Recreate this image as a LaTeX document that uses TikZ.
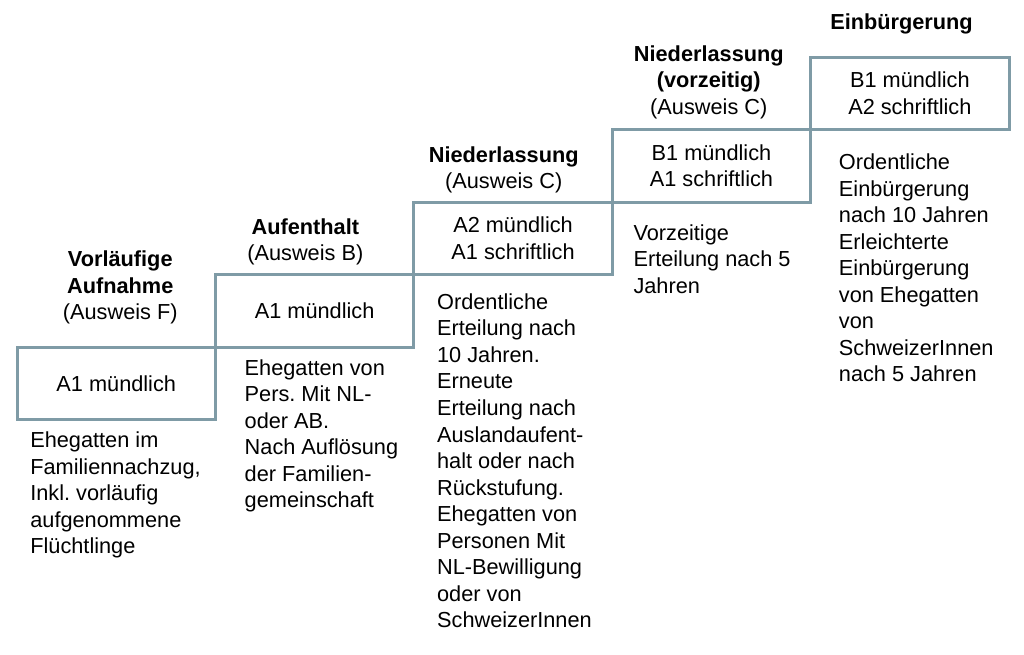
\documentclass[tikz,border=0pt]{standalone}
\usepackage{fontspec}
\setmainfont{Liberation Sans}
\usetikzlibrary{positioning}
\definecolor{stufenrand}{RGB}{127,155,166}
\frenchspacing

\begin{document}
\begin{tikzpicture}[
        every node/.style={
            font=\fontsize{16.3pt}{19.9pt}\selectfont,
            inner sep=0pt
        },
        stufe/.style={
            draw=stufenrand,
            line width=2.25pt,
            minimum width=148.8pt,
            minimum height=54.4pt,
            outer sep=0pt,
            align=center
        },
        titel/.style={
            align=center
        },
        beschreibung/.style={
            align=left,
            anchor=north west
        }
    ]

    \useasboundingbox (0,0) rectangle (768pt,-491.25pt);

    \node[stufe] (vorlaeufig) at (87.2pt,-287.6pt) {A1 mündlich};

    \node[stufe, above right=0pt and 0pt of vorlaeufig] (aufenthalt) {A1 mündlich};

    \node[stufe, above right=0pt and 0pt of aufenthalt] (niederlassung) {
        A2 mündlich\\
        A1 schriftlich
    };

    \node[stufe, above right=0pt and 0pt of niederlassung] (vorzeitig) {
        B1 mündlich\\
        A1 schriftlich
    };

    \node[stufe, above right=0pt and 0pt of vorzeitig] (einbuergerung) {
        B1 mündlich\\
        A2 schriftlich
    };

    % Titel ueber den Stufen
    \node[titel, above=17pt of vorlaeufig, xshift=3pt] (vorlaeufigtitel) {
        \textbf{Vorläufige}\\
        \textbf{Aufnahme}\\
        (Ausweis F)
    };

    \node[titel, above=7pt of aufenthalt, xshift=-7pt] (aufenthalttitel) {
        \textbf{Aufenthalt}\\
        (Ausweis B)
    };

    \node[titel, above=6.5pt of niederlassung, xshift=-7pt] (niederlassungtitel) {
        \textbf{Niederlassung}\\
        (Ausweis C)
    };

    \node[titel, above=8pt of vorzeitig, xshift=-2pt] (vorzeitigtitel) {
        \textbf{Niederlassung}\\
        \textbf{(vorzeitig)}\\
        (Ausweis C)
    };

    \node[titel, above=17pt of einbuergerung, xshift=-4pt] (einbuergerungtitel) {
        \textbf{Einbürgerung}
    };

    % Beschreibungen unter den Stufen
    \node[beschreibung, below=9pt of vorlaeufig.south west, anchor=north west, xshift=9.75pt] (vorlaeufigtext) {
        Ehegatten im\\
        Familiennachzug,\\
        Inkl. vorläufig\\
        aufgenommene\\
        Flüchtlinge
    };

    \node[beschreibung, below=9pt of aufenthalt.south west, anchor=north west, xshift=21.75pt] (aufenthalttext) {
        Ehegatten von\\
        Pers. Mit NL-\\
        oder AB.\\
        Nach Auflösung\\
        der Familien-\\
        gemeinschaft
    };

    \node[beschreibung, below=14pt of niederlassung.south west, anchor=north west, xshift=17.25pt] (niederlassungtext) {
        Ordentliche\\
        Erteilung nach\\
        10 Jahren.\\
        Erneute\\
        Erteilung nach\\
        Auslandaufent-\\
        halt oder nach\\
        Rückstufung.\\
        Ehegatten von\\
        Personen Mit\\
        NL-Bewilligung\\
        oder von\\
        SchweizerInnen
    };

    \node[beschreibung, below=16.5pt of vorzeitig.south west, anchor=north west, xshift=15.75pt] (vorzeitigtext) {
        Vorzeitige\\
        Erteilung nach 5\\
        Jahren
    };

    \node[beschreibung, below=18pt of einbuergerung.south west, anchor=north west, xshift=21pt] (einbuergerungtext) {
        Ordentliche\\
        Einbürgerung\\
        nach 10 Jahren\\
        Erleichterte\\
        Einbürgerung\\
        von Ehegatten\\
        von\\
        SchweizerInnen\\
        nach 5 Jahren
    };

\end{tikzpicture}
\end{document}
